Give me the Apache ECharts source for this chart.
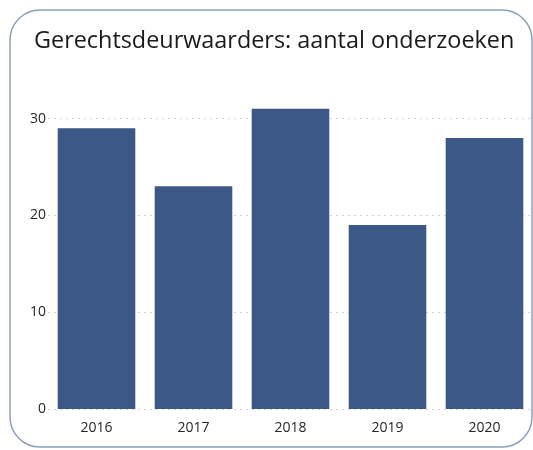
<!DOCTYPE html>
<html>
<head>
<meta charset="utf-8">
<script src="https://cdn.jsdelivr.net/npm/echarts@6/dist/echarts.min.js"></script>
<style>
  html, body { margin: 0; padding: 0; background: #fff; }
  #chart { width: 533px; height: 450px; }
</style>
</head>
<body>
<div id="chart"></div>
<script>
const title = 'Gerechtsdeurwaarders: aantal onderzoeken'
const years = ['2016', '2017', '2018', '2019', '2020']
const onderzoeken = [29, 23, 31, 19, 28]
const yTicks = [0, 10, 20, 30]

const chart = echarts.init(document.getElementById('chart'))

const option = {
  animation: false,
  backgroundColor: '#fff',
  graphic: [{
    type: 'rect',
    shape: { x: 10, y: 10, width: 522, height: 437, r: 30 },
    style: { fill: 'none', stroke: '#8c9dc0', lineWidth: 1.5 },
    z: -1
  }],
  title: {
    text: title,
    left: 29,
    top: 25,
    textStyle: {
      fontFamily: 'Open Sans',
      fontSize: 23.4,
      fontWeight: 'normal',
      color: '#1a1a1a'
    }
  },
  grid: {
    left: 48,
    right: 0,
    top: 104,
    bottom: 41,
    containLabel: false
  },
  xAxis: {
    type: 'category',
    data: years,
    axisLine: { show: false },
    axisTick: { show: false },
    axisLabel: {
      color: '#262626',
      fontSize: 14,
      fontFamily: 'Open Sans',
      margin: 12
    }
  },
  yAxis: {
    type: 'value',
    min: yTicks[0],
    max: 31.5,
    interval: 10,
    axisLine: { show: false },
    axisTick: { show: false },
    axisLabel: {
      color: '#262626',
      fontSize: 14,
      fontFamily: 'Open Sans',
      margin: 2,
      showMaxLabel: false,
      formatter: v => (yTicks.includes(v) ? String(v) : '')
    },
    splitLine: {
      showMaxLine: false,
      lineStyle: { color: '#d4d4d4', type: [2, 4], width: 1 }
    }
  },
  series: [{
    type: 'bar',
    data: onderzoeken,
    barCategoryGap: '20%',
    itemStyle: { color: '#3b5886' }
  }]
}

chart.setOption(option)
</script>
</body>
</html>
